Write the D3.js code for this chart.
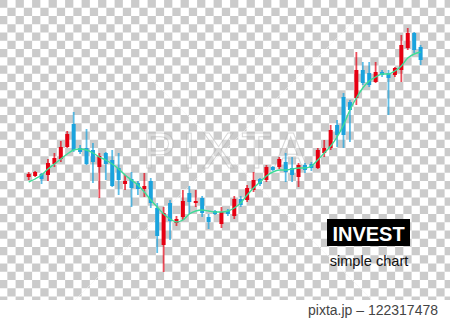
<!DOCTYPE html>
<html>
<head>
<meta charset="utf-8">
<script src="https://cdn.jsdelivr.net/npm/d3@7"></script>
<style>
  body { margin: 0; background: #fff; }
  svg { display: block; }
</style>
</head>
<body>
<div id="chart"></div>
<script>
// candle values (price units, higher = up)
const opens  = [123,124,126,125,136,141,153,176,152,152,150,133,147,140,132,116,121,117,111,119,92,55,97,77,83,107,97,102,83,89,76,89,84,101,100,110,121,120,133,133,138,132,123,135,136,132,147,152,175,203,198,202,230,227,218,228,227,225,230,252,267,253];
const highs  = [128,129,127,141,147,159,169,188,155,171,157,147,148,150,147,125,128,119,127,122,97,93,100,84,110,114,110,104,86,90,93,91,104,104,115,128,122,135,134,143,147,143,137,137,138,152,160,175,180,207,200,248,238,238,238,230,230,233,265,272,268,255];
const lows   = [120,123,116,119,133,138,152,148,146,135,117,102,120,113,105,110,93,105,103,92,47,28,60,74,80,86,93,83,71,85,72,84,81,93,98,108,114,118,129,131,118,118,113,127,129,131,143,150,153,152,158,195,215,213,217,223,185,223,218,250,247,235];
const closes = [126,128,121,137,142,153,166,150,148,136,138,144,136,114,120,119,112,111,114,97,64,87,79,81,99,98,99,87,78,86,88,86,101,95,112,120,116,133,130,141,128,125,135,130,132,150,152,170,165,165,190,230,217,215,228,225,222,232,255,267,250,240];
// moving average line, also
const movingAvg = [118,121,125,131,136,141,146,150,151,150,147,143,140,136,131,125,120,115,108,100,93,86,81,78,80,86,89,90,89,88,88,89,92,97,105,112,118,124,128,130,130,131,132,132,134,140,147,154,163,175,190,202,212,219,223,226,226,229,234,242,246,248];

const labelTitle = "INVEST";
const labelSub = "simple chart";
const creditText = "pixta.jp \u2013 122317478";

class CandleChart {

    constructor(parentElement) {
        this.parentElement = parentElement;
        this.data = opens.map((o, i) => ({
            i: i, open: o, high: highs[i], low: lows[i], close: closes[i], ma: movingAvg[i]
        }));

        this.initVis();
    }

    initVis() {
        let vis = this;

        vis.width = 450;
        vis.height = 319;
        vis.cell = 8.25;
        vis.checkBottom = 300;

        vis.svg = d3.select("#" + vis.parentElement).append("svg")
            .attr("width", vis.width)
            .attr("height", vis.height);

        // transparent-style checkerboard
        let cells = [];
        d3.range(Math.ceil(vis.checkBottom / vis.cell)).forEach(r => {
            d3.range(Math.ceil(vis.width / vis.cell) + 1).forEach(c => {
                if ((r + c) % 2 === 0) cells.push({r: r, c: c});
            });
        });

        vis.svg.append("defs").append("clipPath")
            .attr("id", "checkClip")
            .append("rect")
            .attr("width", vis.width)
            .attr("height", vis.checkBottom);

        vis.svg.append("g")
            .attr("clip-path", "url(#checkClip)")
            .selectAll("rect")
            .data(cells)
            .enter()
            .append("rect")
            .attr("x", d => d.c * vis.cell - 0.9)
            .attr("y", d => d.r * vis.cell - 0.5)
            .attr("width", vis.cell)
            .attr("height", vis.cell)
            .attr("fill", "#cbcbcb");

        // faint watermark
        let wm = vis.svg.append("g").attr("opacity", 0.55);
        wm.append("line")
            .attr("x1", 75).attr("y1", 300).attr("x2", 355).attr("y2", 20)
            .attr("stroke", "#f4f4f4").attr("stroke-width", 1);
        wm.append("line")
            .attr("x1", 150).attr("y1", 78).attr("x2", 372).attr("y2", 300)
            .attr("stroke", "#f4f4f4").attr("stroke-width", 1);
        wm.append("text")
            .attr("x", 228).attr("y", 168)
            .attr("text-anchor", "middle")
            .attr("font-family", "Liberation Sans, Arial, sans-serif")
            .attr("font-size", 50)
            .attr("letter-spacing", 6)
            .attr("fill", "#ffffff")
            .attr("fill-opacity", 0.5)
            .attr("stroke", "#b8b8b8")
            .attr("stroke-width", 1)
            .text("PIXTA");

        // scales
        vis.xScale = d3.scaleLinear()
            .domain([0, vis.data.length - 1])
            .range([28.7, 420.6]);

        vis.yScale = d3.scaleLinear()
            .domain([0, 300])
            .range([300, 0]);

        vis.chart = vis.svg.append("g");

        vis.wrangleVis();
    }

    wrangleVis() {
        let vis = this;

        vis.data.forEach(d => {
            d.up = d.close >= d.open;
        });

        vis.updateVis();
    }

    updateVis() {
        let vis = this;
        let red = "#e60012", blue = "#1ba3dd";
        let bodyW = 4;

        // wicks
        vis.chart.selectAll(".wick")
            .data(vis.data)
            .enter()
            .append("line")
            .attr("class", "wick")
            .attr("x1", d => vis.xScale(d.i))
            .attr("x2", d => vis.xScale(d.i))
            .attr("y1", d => vis.yScale(d.high))
            .attr("y2", d => vis.yScale(d.low))
            .attr("stroke", d => d.up ? red : blue)
            .attr("stroke-opacity", 0.7)
            .attr("stroke-width", 1.8);

        // bodies
        vis.chart.selectAll(".body")
            .data(vis.data)
            .enter()
            .append("rect")
            .attr("class", "body")
            .attr("x", d => vis.xScale(d.i) - bodyW / 2)
            .attr("y", d => vis.yScale(Math.max(d.open, d.close)))
            .attr("width", bodyW)
            .attr("height", d => Math.max(2, Math.abs(vis.yScale(d.open) - vis.yScale(d.close))))
            .attr("fill", d => d.up ? red : blue);

        // moving average
        let line = d3.line()
            .x(d => vis.xScale(d.i))
            .y(d => vis.yScale(d.ma))
            .curve(d3.curveMonotoneX);

        vis.chart.append("path")
            .datum(vis.data)
            .attr("d", line)
            .attr("fill", "none")
            .attr("stroke", "#3ddc97")
            .attr("stroke-width", 1.4);

        // label box
        vis.svg.append("rect")
            .attr("x", 327).attr("y", 219)
            .attr("width", 83).attr("height", 27)
            .attr("fill", "#000");

        vis.svg.append("text")
            .attr("x", 368.5).attr("y", 240.5)
            .attr("text-anchor", "middle")
            .attr("font-family", "Liberation Sans, Arial, sans-serif")
            .attr("font-weight", "bold")
            .attr("font-size", 20)
            .attr("fill", "#fff")
            .text(labelTitle);

        vis.svg.append("text")
            .attr("x", 369).attr("y", 266)
            .attr("text-anchor", "middle")
            .attr("font-family", "Liberation Sans, Arial, sans-serif")
            .attr("font-size", 14.6)
            .attr("fill", "#111")
            .text(labelSub);

        vis.svg.append("text")
            .attr("x", 438).attr("y", 315)
            .attr("text-anchor", "end")
            .attr("font-family", "Liberation Sans, Arial, sans-serif")
            .attr("font-size", 14)
            .attr("fill", "#444")
            .text(creditText);
    }
}

new CandleChart("chart");
</script>
</body>
</html>
